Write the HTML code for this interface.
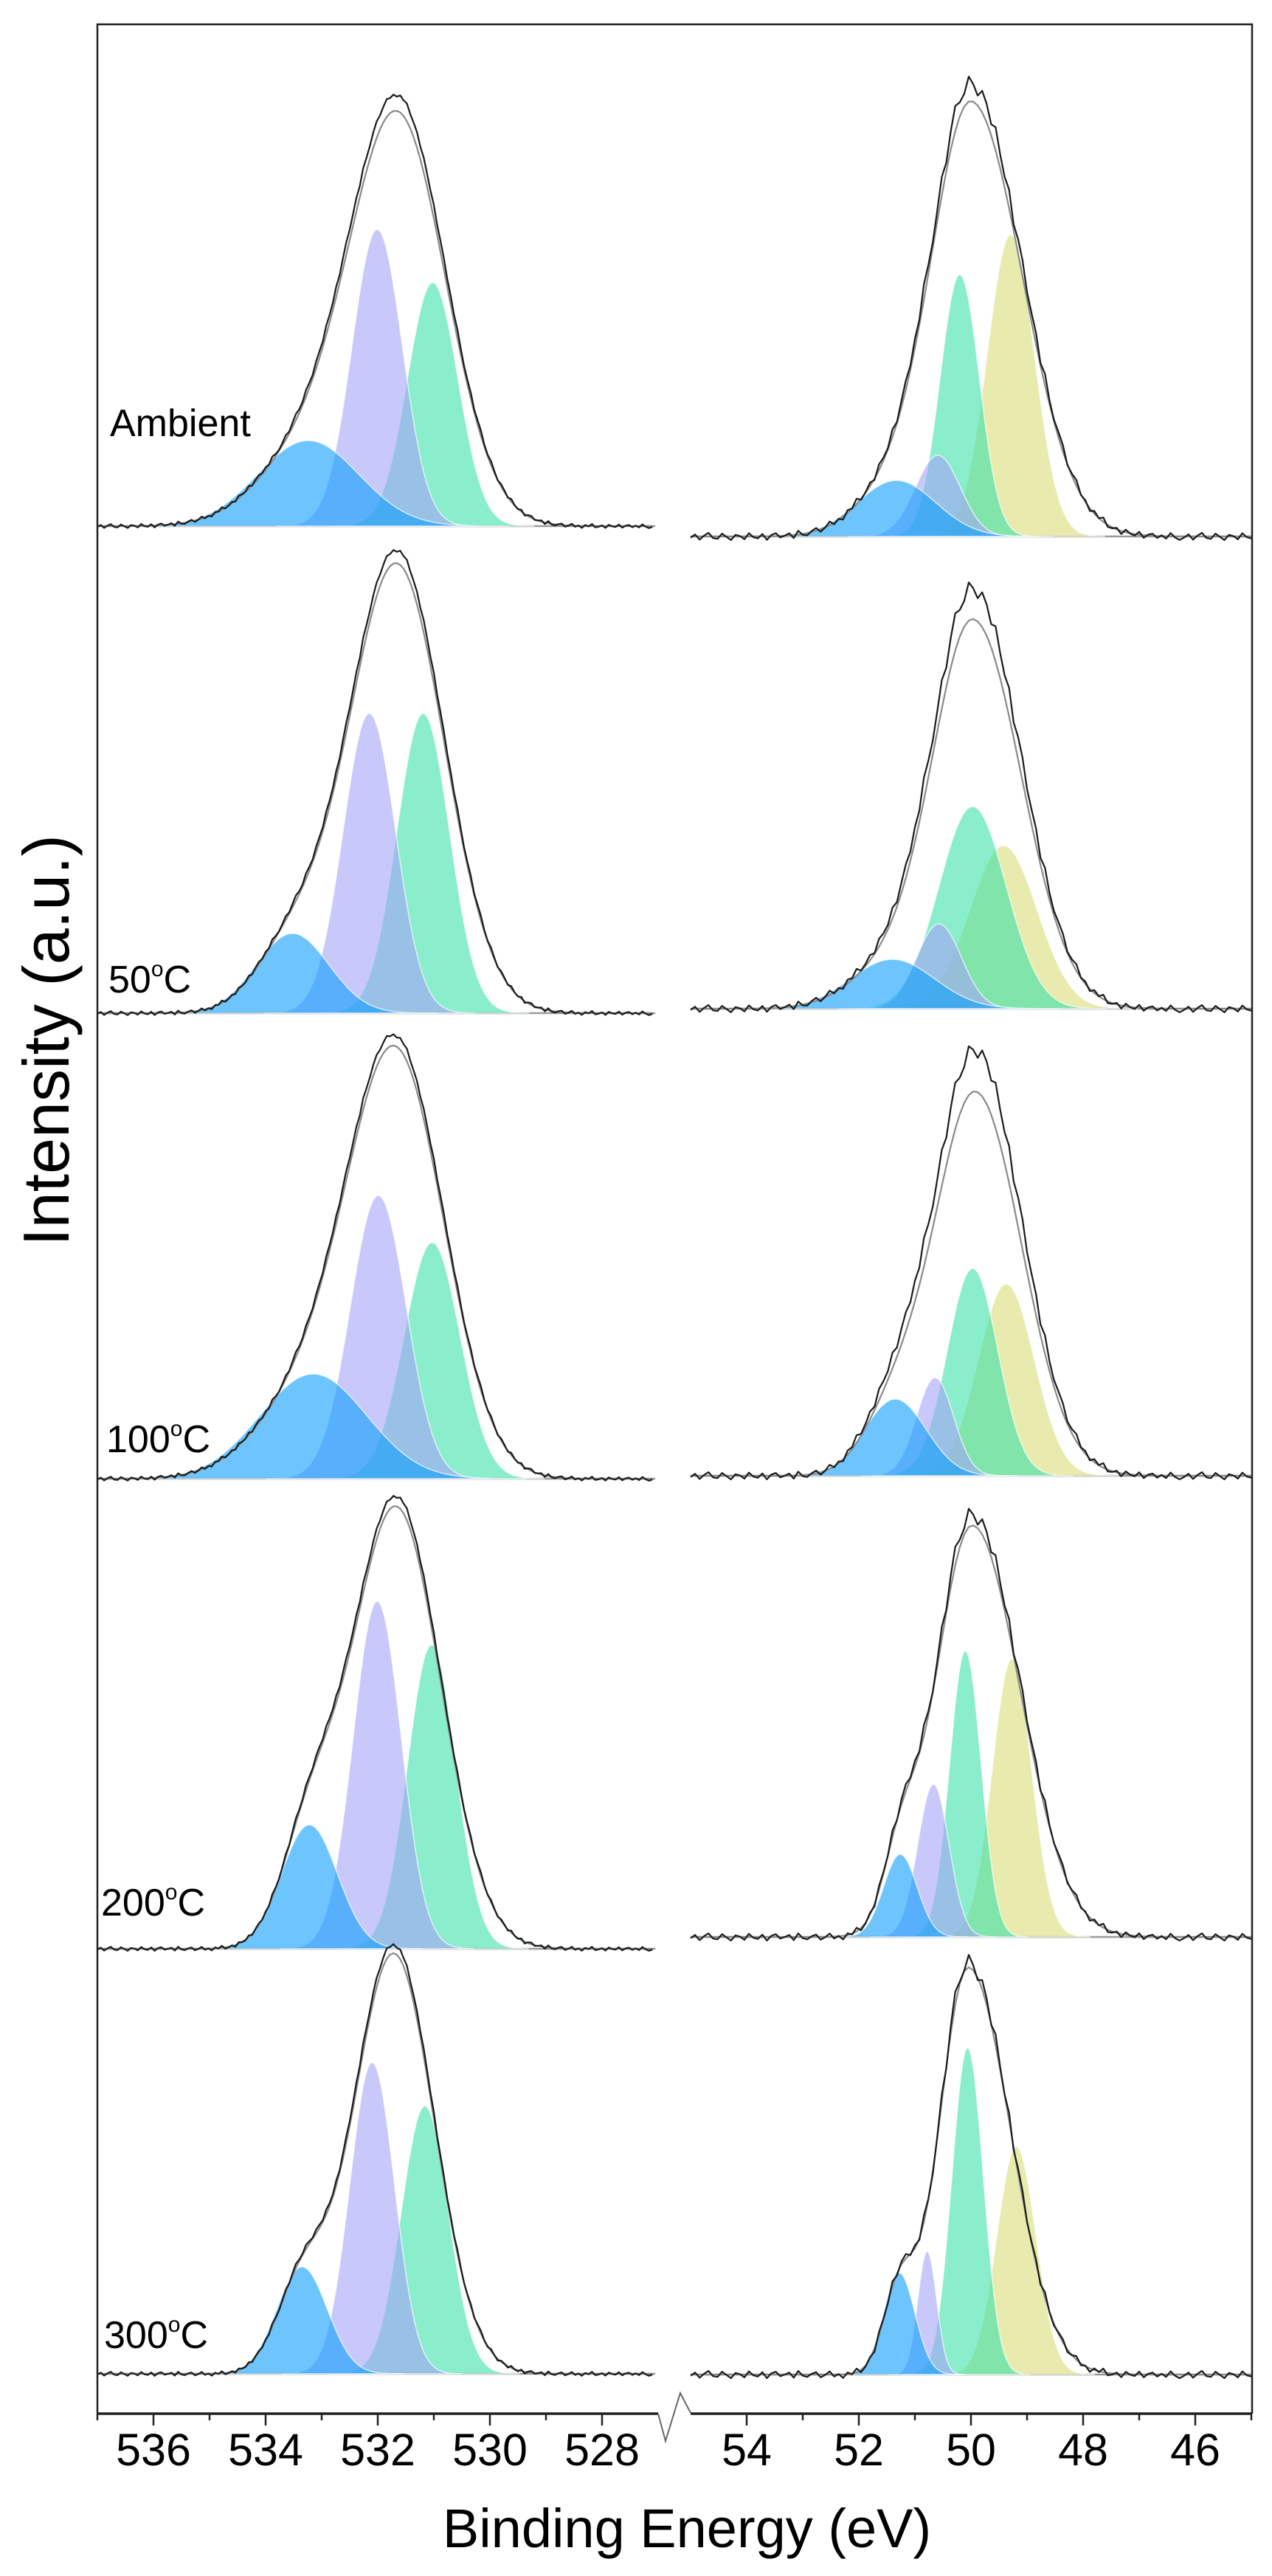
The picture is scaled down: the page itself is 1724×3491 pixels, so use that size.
<!DOCTYPE html>
<html><head><meta charset="utf-8"><style>
html,body{margin:0;padding:0;background:#fff}
svg{display:block}
text{font-family:"Liberation Sans",Arial,sans-serif;fill:#000}
</style></head><body>
<svg id="chart" width="1724" height="3491" viewBox="0 0 1724 3491" xmlns="http://www.w3.org/2000/svg">
<rect x="0" y="0" width="1724" height="3491" fill="#fff"/>
<g id="panels"></g>
<g id="frame" stroke="#222" stroke-width="2.5" fill="none">
  <polyline points="132,3271 132,33 1697,33 1697,3271"/>
</g>
<g id="axis"></g>
<text transform="translate(93,1410) rotate(-90)" text-anchor="middle" font-size="88">Intensity (a.u.)</text>
<text x="931" y="3452" text-anchor="middle" font-size="74">Binding Energy (eV)</text>
</svg>
<script>
// ---------- data ----------
const temps = ['Ambient','50','100','200','300'];
const labelX = [149,147,144,137,141];
const labelBase = [591,1345,1968,2596,3182];
// O 1s (left)
const leftBaseline = [713,1373,2004,2641,3217];
const leftEnvCenter = [531.63,531.67,531.65,531.68,531.72];
const leftEnvSigma = [0.85,0.85,0.85,0.8,0.72];
const leftEnvSigmaLow = [0.85,0.85,0.85,0.8,0.72];
const leftEnvPeak = [562,610,585,600,570];
const leftDataPeak = [584,628,600,614,582];
const oBlueCenter = [533.24,533.52,533.15,533.22,533.35];
const oBlueHeight = [116,108,142,168,145];
const oBlueSigma = [0.9,0.65,0.95,0.5,0.45];
const oPurpleCenter = [532.01,532.15,531.99,532.01,532.10];
const oPurpleHeight = [402,406,384,471,422];
const oPurpleSigma = [0.45,0.47,0.5,0.43,0.4];
const oGreenCenter = [531.02,531.19,531.03,531.04,531.16];
const oGreenHeight = [330,406,320,412,363];
const oGreenSigma = [0.45,0.47,0.5,0.43,0.42];
// right region
const rightBaseline = [727,1367,2000,2625,3218];
const rightEnvCenter = [49.98,49.95,49.92,49.98,50.05];
const rightEnvSigma = [0.70,0.72,0.72,0.66,0.52];
const rightEnvSigmaLow = [0.9,0.85,0.82,0.85,0.75];
const rightEnvPeak = [590,528,521,558,552];
const rightDataPeak = [615,571,579,574,560];
const rYellowCenter = [49.29,49.42,49.37,49.27,49.19];
const rYellowHeight = [409,221,260,377,309];
const rYellowSigma = [0.42,0.6,0.5,0.35,0.35];
const rGreenCenter = [50.20,49.97,49.97,50.10,50.06];
const rGreenHeight = [355,274,281,388,443];
const rGreenSigma = [0.35,0.6,0.45,0.28,0.28];
const rPurpleCenter = [50.59,50.57,50.64,50.67,50.78];
const rPurpleHeight = [110,115,133,207,167];
const rPurpleSigma = [0.4,0.4,0.33,0.28,0.17];
const rBlueCenter = [51.33,51.40,51.35,51.26,51.28];
const rBlueHeight = [76,67,104,112,138];
const rBlueSigma = [0.7,0.75,0.55,0.3,0.28];
const noisePattern = [0.3,-0.5,0.8,-0.2,-0.9,0.4,0.6,-0.7,0.1,0.9,-0.4,-0.1,0.7,-0.8,0.2,0.5,-0.6,0.9,-0.3,-0.7,0.4,0.0,-0.5,0.8,-0.9,0.3,0.6,-0.2,-0.6,0.7,0.1,-0.8,0.5,-0.1,0.9,-0.4,0.2,-0.9,0.6,0.3,-0.3,0.8,-0.6,0.1,0.4,-0.7,0.7,-0.2,-0.5,0.5,-0.2,0.6,-0.8,0.3,0.9];
const leftTicks = [536,534,532,530,528];
const leftMinor = [537,535,533,531,529];
const rightTicks = [54,52,50,48,46];
const rightMinor = [53,51,49,47,45];

// ---------- scales ----------
const xLeft = e => 132 + (537 - e) * 76;
const xRight = e => 936 + (55 - e) * 76;
const NS = 'http://www.w3.org/2000/svg';
const gauss = (e,c,h,s) => h * Math.exp(-((e-c)*(e-c))/(2*s*s));
const panels = document.getElementById('panels');
const axis = document.getElementById('axis');
function mk(tag, attrs, parent){const el=document.createElementNS(NS,tag);for(const k in attrs)el.setAttribute(k,attrs[k]);parent.appendChild(el);return el;}

const COL = {blue:'rgba(13,158,252,0.6)',purple:'rgba(163,163,247,0.6)',green:'rgba(60,225,170,0.6)',yellow:'rgba(217,222,118,0.6)'};

function drawPanel(i, side){
  const isL = side==='left';
  const sx = isL ? xLeft : xRight;
  const e0 = isL ? 537 : 55, e1 = isL ? 527.05 : 45;
  const base = isL ? leftBaseline[i] : rightBaseline[i];
  const comps = isL ? [
    ['green',oGreenCenter[i],oGreenHeight[i],oGreenSigma[i]],
    ['purple',oPurpleCenter[i],oPurpleHeight[i],oPurpleSigma[i]],
    ['blue',oBlueCenter[i],oBlueHeight[i],oBlueSigma[i]]
  ] : [
    ['yellow',rYellowCenter[i],rYellowHeight[i],rYellowSigma[i]],
    ['green',rGreenCenter[i],rGreenHeight[i],rGreenSigma[i]],
    ['purple',rPurpleCenter[i],rPurpleHeight[i],rPurpleSigma[i]],
    ['blue',rBlueCenter[i],rBlueHeight[i],rBlueSigma[i]]
  ];
  const blue = comps[comps.length-1];
  const g = mk('g',{},panels);
  
  
  const bl = mk('line',{x1:sx(e0),x2:sx(e1),y1:base,y2:base,stroke:'#9a9a9a','stroke-width':2.5},g);
  
  
  const step = 0.02;
  comps.forEach(c=>{
    const lo = c[1]-4*c[3], hi = c[1]+4*c[3];
    let d = 'M'+sx(hi).toFixed(1)+','+base;
    for(let e=hi;e>=lo;e-=step){d+=' L'+sx(e).toFixed(1)+','+(base-gauss(e,c[1],c[2],c[3])).toFixed(1);}
    d += ' L'+sx(lo).toFixed(1)+','+base+' Z';
    const p = mk('path',{d:d,fill:COL[c[0]],stroke:'rgba(255,255,255,0.7)','stroke-width':1.5},g);
    
    
  });
  const ec = isL ? leftEnvCenter[i] : rightEnvCenter[i];
  const es = isL ? leftEnvSigma[i] : rightEnvSigma[i];
  const esLow = isL ? leftEnvSigmaLow[i] : rightEnvSigmaLow[i];
  const envPk = isL ? leftEnvPeak[i] : rightEnvPeak[i];
  const dataPk = isL ? leftDataPeak[i] : rightDataPeak[i];
  const shoulder = e => 0.8*gauss(e,blue[1],blue[2],blue[3]);
  const mainH = envPk - shoulder(ec);
  const envAt = e => gauss(e,ec,mainH,e>=ec?es:esLow) + shoulder(e);
  const kd = dataPk/envPk;
  let de = '', dd = '', n = 0;
  const noiseAmp = isL ? 3 : 9;
  const dstep = isL ? 0.06 : 0.08;
  for(let e=e0;e>=e1-1e-6;e-=dstep){
    const s = envAt(e);
    const ye = base - s;
    const yd = base - kd*s + noisePattern[n%noisePattern.length]*noiseAmp*(isL?1:(0.6+0.8*s/envPk));
    de += (n?' L':'M')+sx(e).toFixed(1)+','+ye.toFixed(1);
    dd += (n?' L':'M')+sx(e).toFixed(1)+','+yd.toFixed(1);
    n++;
  }
  const env = mk('path',{d:de,fill:'none',stroke:'#8a8a8a','stroke-width':2.2},g);
  
  
  const dat = mk('path',{d:dd,fill:'none',stroke:'#1a1a1a','stroke-width':2.2,'stroke-linejoin':'round'},g);
  
  
}

for(let i=0;i<temps.length;i++){drawPanel(i,'left');drawPanel(i,'right');}

temps.forEach((t,i)=>{
  const tx = mk('text',{x:labelX[i],y:labelBase[i],'font-size':52},panels);
  
  
  if(t==='Ambient'){tx.textContent='Ambient';}
  else{
    const a = mk('tspan',{},tx); a.textContent=t;
    const b = mk('tspan',{'font-size':30,dy:-22},tx); b.textContent='o';
    const c = mk('tspan',{dy:22},tx); c.textContent='C';
  }
});

const al = mk('line',{x1:132,x2:892,y1:3271,y2:3271,stroke:'#222','stroke-width':3.5},axis);


const ar = mk('line',{x1:936,x2:1697,y1:3271,y2:3271,stroke:'#222','stroke-width':3.5},axis);


const brk = mk('polyline',{points:'892,3271 902,3308 922,3243 936,3270',fill:'none',stroke:'#666','stroke-width':2},axis);


function tick(x,len){const t=mk('line',{x1:x,x2:x,y1:3271,y2:3271+len,stroke:'#222','stroke-width':2.5},axis);}
leftTicks.forEach(v=>{tick(xLeft(v),16);const t=mk('text',{x:xLeft(v),y:3341,'text-anchor':'middle','font-size':61},axis);t.textContent=v;});
leftMinor.forEach(v=>tick(xLeft(v),9));
rightTicks.forEach(v=>{tick(xRight(v),16);const t=mk('text',{x:xRight(v),y:3341,'text-anchor':'middle','font-size':61},axis);t.textContent=v;});
rightMinor.forEach(v=>tick(xRight(v),9));
</script>
</body></html>
